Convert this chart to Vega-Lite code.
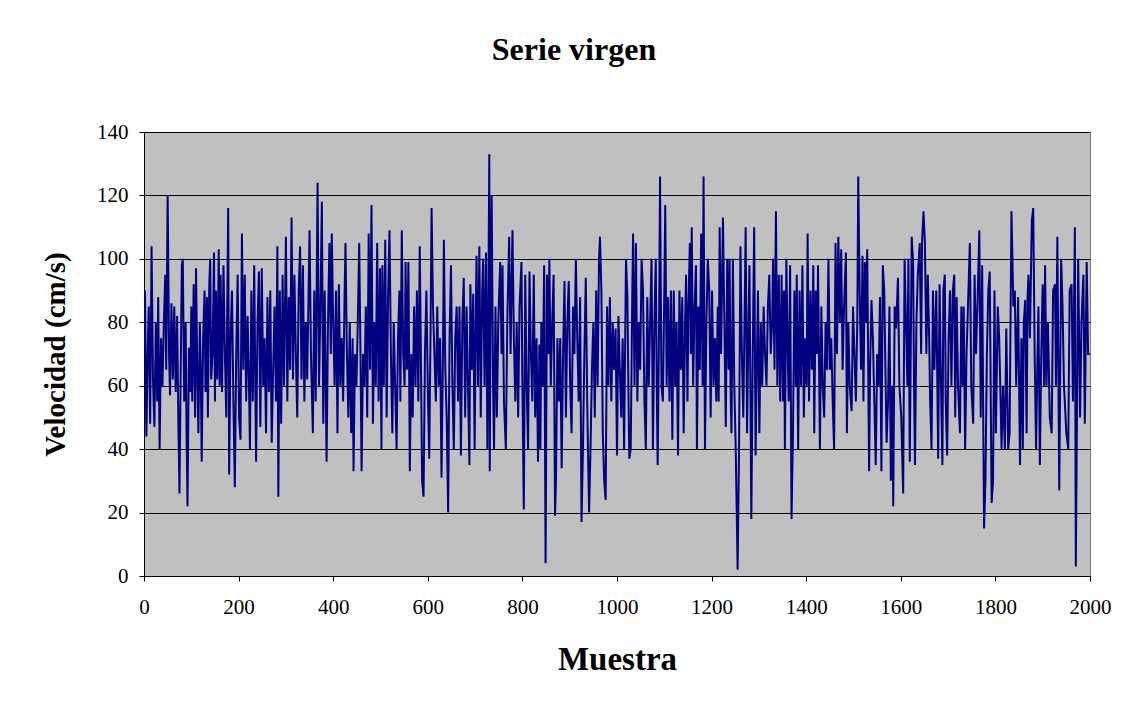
{
  "$schema": "https://vega.github.io/schema/vega-lite/v6.json",
  "autosize": "none",
  "width": 946,
  "height": 444,
  "padding": {"left": 144, "top": 132, "right": 40, "bottom": 130},
  "background": "white",
  "title": {"text": "Serie virgen", "font": "Liberation Serif", "fontSize": 32, "fontWeight": "bold", "color": "black", "anchor": "middle", "dx": -43, "offset": 54},
  "config": {"view": {"fill": "#C0C0C0", "stroke": "#808080", "strokeWidth": 1}},
  "data": {"values": [
{"x":0,"y":70},{"x":2,"y":90},{"x":5,"y":44},{"x":8,"y":72},{"x":10,"y":85},{"x":13,"y":48},{"x":16,"y":104},{"x":19,"y":62},{"x":22,"y":47},{"x":25,"y":80},{"x":28,"y":55},{"x":30,"y":88},{"x":33,"y":40},{"x":36,"y":75},{"x":39,"y":60},{"x":42,"y":80},{"x":45,"y":95},{"x":47,"y":65},{"x":50,"y":120},{"x":53,"y":70},{"x":55,"y":57},{"x":58,"y":86},{"x":61,"y":62},{"x":64,"y":85},{"x":67,"y":58},{"x":70,"y":82},{"x":73,"y":45},{"x":75,"y":26},{"x":78,"y":70},{"x":80,"y":98},{"x":82,"y":100},{"x":85,"y":55},{"x":88,"y":80},{"x":90,"y":45},{"x":92,"y":22},{"x":95,"y":72},{"x":98,"y":58},{"x":100,"y":85},{"x":102,"y":55},{"x":105,"y":92},{"x":108,"y":50},{"x":110,"y":97},{"x":113,"y":60},{"x":115,"y":45},{"x":118,"y":80},{"x":120,"y":65},{"x":122,"y":36},{"x":125,"y":75},{"x":128,"y":90},{"x":130,"y":58},{"x":133,"y":88},{"x":135,"y":50},{"x":138,"y":92},{"x":140,"y":100},{"x":142,"y":62},{"x":145,"y":70},{"x":148,"y":102},{"x":150,"y":55},{"x":152,"y":90},{"x":155,"y":62},{"x":158,"y":103},{"x":160,"y":60},{"x":162,"y":95},{"x":165,"y":58},
{"x":168,"y":98},{"x":171,"y":70},{"x":174,"y":50},{"x":176,"y":85},{"x":178,"y":116},{"x":180,"y":32},{"x":183,"y":75},{"x":186,"y":90},{"x":189,"y":55},{"x":192,"y":28},{"x":195,"y":70},{"x":198,"y":95},{"x":201,"y":50},{"x":204,"y":43},{"x":207,"y":108},{"x":210,"y":65},{"x":213,"y":95},{"x":216,"y":55},{"x":219,"y":82},{"x":222,"y":60},{"x":224,"y":40},{"x":227,"y":90},{"x":230,"y":55},{"x":233,"y":98},{"x":236,"y":50},{"x":237,"y":36},{"x":240,"y":80},{"x":243,"y":96},{"x":246,"y":47},{"x":249,"y":97},{"x":252,"y":60},{"x":255,"y":75},{"x":258,"y":45},{"x":261,"y":88},{"x":264,"y":58},{"x":267,"y":90},{"x":270,"y":42},{"x":273,"y":65},{"x":276,"y":85},{"x":279,"y":55},{"x":282,"y":104},{"x":284,"y":25},{"x":287,"y":90},{"x":290,"y":48},{"x":293,"y":95},{"x":296,"y":60},{"x":300,"y":107},{"x":303,"y":55},{"x":306,"y":88},{"x":309,"y":65},{"x":312,"y":113},{"x":315,"y":62},{"x":318,"y":95},{"x":321,"y":70},{"x":324,"y":50},{"x":327,"y":90},{"x":330,"y":104},{"x":333,"y":62},
{"x":336,"y":98},{"x":339,"y":55},{"x":342,"y":80},{"x":345,"y":62},{"x":348,"y":90},{"x":350,"y":109},{"x":353,"y":70},{"x":357,"y":45},{"x":360,"y":90},{"x":363,"y":55},{"x":367,"y":124},{"x":370,"y":60},{"x":373,"y":85},{"x":376,"y":118},{"x":379,"y":48},{"x":382,"y":90},{"x":386,"y":36},{"x":389,"y":80},{"x":392,"y":105},{"x":395,"y":70},{"x":397,"y":108},{"x":400,"y":80},{"x":403,"y":60},{"x":406,"y":90},{"x":409,"y":45},{"x":412,"y":92},{"x":415,"y":60},{"x":418,"y":75},{"x":421,"y":55},{"x":424,"y":88},{"x":426,"y":105},{"x":429,"y":70},{"x":432,"y":50},{"x":435,"y":80},{"x":438,"y":45},{"x":441,"y":75},{"x":443,"y":33},{"x":446,"y":70},{"x":449,"y":60},{"x":452,"y":80},{"x":455,"y":105},{"x":458,"y":65},{"x":460,"y":33},{"x":463,"y":70},{"x":466,"y":60},{"x":469,"y":85},{"x":472,"y":50},{"x":475,"y":108},{"x":478,"y":65},{"x":481,"y":117},{"x":484,"y":48},{"x":487,"y":80},{"x":490,"y":60},{"x":493,"y":105},{"x":496,"y":55},{"x":499,"y":97},{"x":502,"y":40},
{"x":504,"y":98},{"x":507,"y":60},{"x":510,"y":106},{"x":513,"y":50},{"x":516,"y":88},{"x":519,"y":109},{"x":522,"y":70},{"x":525,"y":45},{"x":528,"y":80},{"x":531,"y":60},{"x":534,"y":40},{"x":537,"y":75},{"x":540,"y":90},{"x":542,"y":55},{"x":545,"y":109},{"x":548,"y":70},{"x":551,"y":60},{"x":553,"y":99},{"x":556,"y":65},{"x":559,"y":99},{"x":562,"y":33},{"x":565,"y":70},{"x":568,"y":50},{"x":571,"y":85},{"x":574,"y":60},{"x":577,"y":90},{"x":580,"y":55},{"x":583,"y":104},{"x":586,"y":60},{"x":588,"y":30},{"x":591,"y":25},{"x":594,"y":70},{"x":597,"y":90},{"x":600,"y":60},{"x":603,"y":37},{"x":606,"y":80},{"x":608,"y":116},{"x":611,"y":85},{"x":614,"y":70},{"x":617,"y":55},{"x":620,"y":85},{"x":623,"y":60},{"x":626,"y":75},{"x":629,"y":31},{"x":632,"y":70},{"x":634,"y":106},{"x":637,"y":65},{"x":640,"y":50},{"x":643,"y":20},{"x":646,"y":75},{"x":649,"y":98},{"x":652,"y":60},{"x":655,"y":40},{"x":658,"y":75},{"x":661,"y":85},{"x":664,"y":55},{"x":667,"y":85},{"x":670,"y":38},
{"x":673,"y":80},{"x":676,"y":94},{"x":679,"y":50},{"x":682,"y":85},{"x":685,"y":60},{"x":688,"y":35},{"x":690,"y":92},{"x":693,"y":65},{"x":696,"y":89},{"x":699,"y":40},{"x":701,"y":75},{"x":703,"y":101},{"x":706,"y":60},{"x":709,"y":104},{"x":712,"y":50},{"x":715,"y":90},{"x":717,"y":100},{"x":720,"y":60},{"x":723,"y":102},{"x":726,"y":40},{"x":728,"y":85},{"x":730,"y":133},{"x":731,"y":33},{"x":733,"y":95},{"x":735,"y":120},{"x":738,"y":60},{"x":740,"y":40},{"x":743,"y":85},{"x":746,"y":50},{"x":749,"y":80},{"x":753,"y":99},{"x":756,"y":70},{"x":758,"y":98},{"x":761,"y":55},{"x":765,"y":40},{"x":768,"y":80},{"x":772,"y":107},{"x":775,"y":70},{"x":779,"y":109},{"x":782,"y":75},{"x":785,"y":55},{"x":788,"y":80},{"x":791,"y":50},{"x":794,"y":85},{"x":798,"y":99},{"x":800,"y":60},{"x":803,"y":21},{"x":806,"y":95},{"x":809,"y":60},{"x":812,"y":40},{"x":815,"y":96},{"x":818,"y":70},{"x":821,"y":55},{"x":824,"y":95},{"x":827,"y":50},{"x":830,"y":75},{"x":833,"y":36},{"x":836,"y":73},
{"x":838,"y":40},{"x":840,"y":80},{"x":843,"y":60},{"x":846,"y":98},{"x":849,"y":4},{"x":852,"y":95},{"x":855,"y":70},{"x":857,"y":100},{"x":860,"y":60},{"x":863,"y":80},{"x":866,"y":95},{"x":869,"y":19},{"x":871,"y":30},{"x":874,"y":75},{"x":877,"y":55},{"x":880,"y":75},{"x":883,"y":34},{"x":886,"y":70},{"x":889,"y":93},{"x":892,"y":50},{"x":895,"y":80},{"x":898,"y":93},{"x":901,"y":60},{"x":904,"y":45},{"x":907,"y":85},{"x":910,"y":70},{"x":913,"y":100},{"x":916,"y":75},{"x":919,"y":55},{"x":922,"y":88},{"x":925,"y":17},{"x":928,"y":40},{"x":931,"y":70},{"x":934,"y":94},{"x":937,"y":55},{"x":941,"y":20},{"x":944,"y":40},{"x":947,"y":65},{"x":950,"y":80},{"x":953,"y":50},{"x":956,"y":90},{"x":959,"y":60},{"x":962,"y":100},{"x":964,"y":107},{"x":967,"y":90},{"x":970,"y":45},{"x":973,"y":30},{"x":976,"y":24},{"x":979,"y":85},{"x":982,"y":60},{"x":985,"y":88},{"x":988,"y":55},{"x":991,"y":80},{"x":994,"y":65},{"x":997,"y":78},{"x":1000,"y":38},{"x":1003,"y":82},{"x":1006,"y":65},
{"x":1009,"y":50},{"x":1012,"y":75},{"x":1015,"y":40},{"x":1019,"y":100},{"x":1022,"y":88},{"x":1024,"y":60},{"x":1026,"y":37},{"x":1029,"y":40},{"x":1032,"y":85},{"x":1034,"y":108},{"x":1037,"y":60},{"x":1040,"y":105},{"x":1043,"y":55},{"x":1046,"y":80},{"x":1049,"y":65},{"x":1052,"y":100},{"x":1055,"y":90},{"x":1058,"y":55},{"x":1061,"y":40},{"x":1064,"y":88},{"x":1067,"y":60},{"x":1070,"y":80},{"x":1073,"y":100},{"x":1076,"y":40},{"x":1079,"y":80},{"x":1082,"y":100},{"x":1084,"y":60},{"x":1086,"y":35},{"x":1089,"y":80},{"x":1091,"y":126},{"x":1094,"y":60},{"x":1097,"y":55},{"x":1100,"y":90},{"x":1102,"y":117},{"x":1105,"y":60},{"x":1108,"y":88},{"x":1111,"y":55},{"x":1114,"y":90},{"x":1117,"y":43},{"x":1120,"y":90},{"x":1123,"y":60},{"x":1126,"y":80},{"x":1129,"y":38},{"x":1132,"y":90},{"x":1135,"y":65},{"x":1138,"y":88},{"x":1141,"y":45},{"x":1144,"y":80},{"x":1146,"y":95},{"x":1149,"y":55},{"x":1151,"y":85},{"x":1154,"y":105},{"x":1156,"y":70},{"x":1158,"y":110},{"x":1161,"y":60},{"x":1164,"y":85},{"x":1167,"y":98},{"x":1169,"y":40},{"x":1172,"y":85},{"x":1175,"y":65},{"x":1178,"y":108},
{"x":1181,"y":60},{"x":1183,"y":126},{"x":1186,"y":40},{"x":1189,"y":80},{"x":1192,"y":100},{"x":1195,"y":90},{"x":1198,"y":50},{"x":1201,"y":90},{"x":1204,"y":60},{"x":1207,"y":75},{"x":1210,"y":55},{"x":1213,"y":85},{"x":1215,"y":55},{"x":1217,"y":110},{"x":1220,"y":70},{"x":1224,"y":113},{"x":1227,"y":80},{"x":1230,"y":47},{"x":1233,"y":100},{"x":1236,"y":65},{"x":1238,"y":100},{"x":1240,"y":60},{"x":1242,"y":45},{"x":1245,"y":100},{"x":1248,"y":60},{"x":1251,"y":40},{"x":1255,"y":2},{"x":1258,"y":40},{"x":1261,"y":104},{"x":1264,"y":70},{"x":1267,"y":50},{"x":1270,"y":85},{"x":1272,"y":110},{"x":1275,"y":45},{"x":1278,"y":80},{"x":1280,"y":98},{"x":1282,"y":60},{"x":1284,"y":18},{"x":1287,"y":70},{"x":1290,"y":110},{"x":1293,"y":38},{"x":1296,"y":70},{"x":1298,"y":90},{"x":1301,"y":45},{"x":1304,"y":80},{"x":1307,"y":60},{"x":1310,"y":85},{"x":1313,"y":70},{"x":1316,"y":60},{"x":1319,"y":85},{"x":1322,"y":95},{"x":1325,"y":70},{"x":1328,"y":80},{"x":1330,"y":100},{"x":1333,"y":65},{"x":1336,"y":115},{"x":1339,"y":60},{"x":1342,"y":95},{"x":1345,"y":55},
{"x":1348,"y":95},{"x":1351,"y":55},{"x":1353,"y":90},{"x":1355,"y":40},{"x":1358,"y":100},{"x":1361,"y":70},{"x":1363,"y":55},{"x":1366,"y":98},{"x":1369,"y":18},{"x":1372,"y":45},{"x":1375,"y":90},{"x":1378,"y":60},{"x":1380,"y":95},{"x":1383,"y":40},{"x":1386,"y":90},{"x":1389,"y":60},{"x":1392,"y":98},{"x":1395,"y":50},{"x":1398,"y":75},{"x":1401,"y":60},{"x":1403,"y":108},{"x":1406,"y":55},{"x":1409,"y":90},{"x":1412,"y":65},{"x":1415,"y":98},{"x":1417,"y":45},{"x":1420,"y":90},{"x":1423,"y":70},{"x":1425,"y":98},{"x":1429,"y":40},{"x":1432,"y":85},{"x":1435,"y":60},{"x":1438,"y":50},{"x":1441,"y":80},{"x":1444,"y":65},{"x":1447,"y":100},{"x":1450,"y":65},{"x":1453,"y":75},{"x":1456,"y":55},{"x":1459,"y":40},{"x":1462,"y":105},{"x":1465,"y":70},{"x":1468,"y":107},{"x":1471,"y":80},{"x":1474,"y":103},{"x":1477,"y":65},{"x":1480,"y":85},{"x":1484,"y":102},{"x":1486,"y":45},{"x":1489,"y":80},{"x":1492,"y":60},{"x":1496,"y":52},{"x":1499,"y":85},{"x":1502,"y":70},{"x":1505,"y":55},{"x":1508,"y":80},{"x":1510,"y":126},{"x":1513,"y":90},{"x":1516,"y":65},
{"x":1519,"y":101},{"x":1521,"y":55},{"x":1524,"y":99},{"x":1526,"y":80},{"x":1529,"y":103},{"x":1533,"y":33},{"x":1535,"y":65},{"x":1538,"y":87},{"x":1541,"y":75},{"x":1544,"y":55},{"x":1547,"y":35},{"x":1550,"y":70},{"x":1553,"y":60},{"x":1556,"y":88},{"x":1559,"y":33},{"x":1562,"y":98},{"x":1565,"y":90},{"x":1568,"y":60},{"x":1570,"y":42},{"x":1573,"y":55},{"x":1576,"y":85},{"x":1579,"y":30},{"x":1582,"y":60},{"x":1584,"y":22},{"x":1587,"y":85},{"x":1590,"y":78},{"x":1594,"y":94},{"x":1597,"y":60},{"x":1601,"y":50},{"x":1605,"y":26},{"x":1608,"y":100},{"x":1611,"y":80},{"x":1614,"y":60},{"x":1616,"y":100},{"x":1619,"y":36},{"x":1623,"y":107},{"x":1626,"y":99},{"x":1628,"y":60},{"x":1630,"y":35},{"x":1633,"y":80},{"x":1636,"y":95},{"x":1640,"y":105},{"x":1643,"y":70},{"x":1645,"y":106},{"x":1648,"y":115},{"x":1651,"y":105},{"x":1654,"y":70},{"x":1657,"y":95},{"x":1660,"y":75},{"x":1662,"y":55},{"x":1665,"y":40},{"x":1668,"y":90},{"x":1671,"y":65},{"x":1675,"y":90},{"x":1679,"y":37},{"x":1682,"y":92},{"x":1685,"y":60},
{"x":1688,"y":35},{"x":1690,"y":90},{"x":1693,"y":95},{"x":1695,"y":55},{"x":1698,"y":38},{"x":1701,"y":75},{"x":1704,"y":90},{"x":1707,"y":60},{"x":1710,"y":90},{"x":1713,"y":95},{"x":1715,"y":50},{"x":1718,"y":88},{"x":1721,"y":60},{"x":1725,"y":45},{"x":1728,"y":85},{"x":1731,"y":60},{"x":1733,"y":85},{"x":1736,"y":40},{"x":1739,"y":70},{"x":1742,"y":85},{"x":1746,"y":105},{"x":1749,"y":60},{"x":1753,"y":48},{"x":1756,"y":95},{"x":1759,"y":70},{"x":1762,"y":85},{"x":1766,"y":109},{"x":1769,"y":50},{"x":1772,"y":98},{"x":1776,"y":15},{"x":1779,"y":30},{"x":1782,"y":70},{"x":1785,"y":90},{"x":1788,"y":96},{"x":1792,"y":23},{"x":1795,"y":30},{"x":1798,"y":90},{"x":1801,"y":45},{"x":1805,"y":85},{"x":1808,"y":75},{"x":1811,"y":55},{"x":1813,"y":40},{"x":1816,"y":60},{"x":1820,"y":40},{"x":1823,"y":78},{"x":1827,"y":40},{"x":1830,"y":45},{"x":1834,"y":115},{"x":1838,"y":85},{"x":1841,"y":90},{"x":1844,"y":60},{"x":1848,"y":88},{"x":1852,"y":35},{"x":1855,"y":75},
{"x":1858,"y":40},{"x":1860,"y":80},{"x":1863,"y":87},{"x":1866,"y":45},{"x":1868,"y":88},{"x":1870,"y":95},{"x":1873,"y":75},{"x":1877,"y":112},{"x":1880,"y":116},{"x":1883,"y":70},{"x":1886,"y":40},{"x":1889,"y":70},{"x":1891,"y":85},{"x":1894,"y":35},{"x":1897,"y":70},{"x":1900,"y":92},{"x":1903,"y":60},{"x":1905,"y":98},{"x":1908,"y":60},{"x":1911,"y":80},{"x":1915,"y":50},{"x":1919,"y":45},{"x":1922,"y":90},{"x":1926,"y":92},{"x":1928,"y":60},{"x":1931,"y":107},{"x":1935,"y":27},{"x":1939,"y":100},{"x":1942,"y":85},{"x":1945,"y":60},{"x":1950,"y":45},{"x":1954,"y":40},{"x":1957,"y":90},{"x":1961,"y":92},{"x":1964,"y":55},{"x":1968,"y":110},{"x":1970,"y":3},{"x":1975,"y":100},{"x":1979,"y":50},{"x":1982,"y":80},{"x":1986,"y":95},{"x":1989,"y":48},{"x":1993,"y":99},{"x":1996,"y":70},{"x":2000,"y":70}
  ]},
  "mark": {"type": "line", "color": "#000080", "strokeWidth": 2, "interpolate": "linear", "clip": true},
  "encoding": {
    "x": {
      "field": "x", "type": "quantitative",
      "scale": {"domain": [0, 2000], "nice": false},
      "axis": {
        "title": "Muestra",
        "values": [0, 200, 400, 600, 800, 1000, 1200, 1400, 1600, 1800, 2000],
        "format": "d",
        "grid": false, "domainColor": "black", "domainWidth": 1, "tickColor": "black", "tickSize": 5,
        "labelFont": "Liberation Serif", "labelFontSize": 21, "labelColor": "black", "labelPadding": 15, "labelFlush": false,
        "titleFont": "Liberation Serif", "titleFontSize": 33, "titleFontWeight": "bold", "titleColor": "black", "titlePadding": 26
      }
    },
    "y": {
      "field": "y", "type": "quantitative",
      "scale": {"domain": [0, 140], "nice": false},
      "axis": {
        "title": "Velocidad (cm/s)",
        "values": [0, 20, 40, 60, 80, 100, 120, 140],
        "format": "d",
        "grid": true, "gridColor": "#000000", "gridWidth": 1, "gridOpacity": 1,
        "domainColor": "black", "domainWidth": 1, "tickColor": "black", "tickSize": 5,
        "labelFont": "Liberation Serif", "labelFontSize": 21, "labelColor": "black", "labelPadding": 11,
        "titleFont": "Liberation Serif", "titleFontSize": 29, "titleFontWeight": "bold", "titleColor": "black", "titlePadding": 26
      }
    }
  }
}
